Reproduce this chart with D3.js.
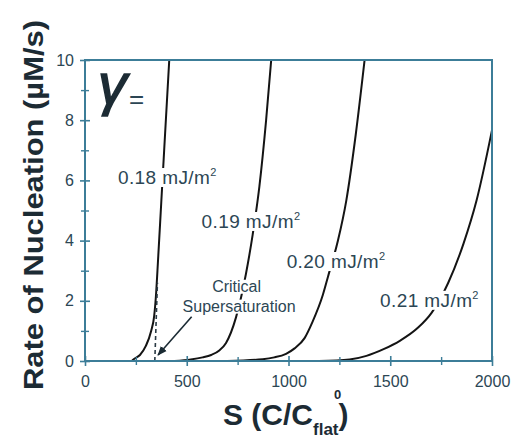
<!DOCTYPE html>
<html>
<head>
<meta charset="utf-8">
<script src="https://cdn.jsdelivr.net/npm/d3@7"></script>
<style>
  body { margin: 0; background: #fff; }
  svg { display: block; }
  text { font-family: "Liberation Sans", Arial, sans-serif; }
</style>
</head>
<body>
<svg id="chart" width="512" height="441"></svg>
<script>
"use strict";
// values: [S, rate (uM/s)]
var gamma018 = [[230, 0], [241, 0.07], [270, 0.2], [299, 0.5], [325, 1.0], [340, 1.5], [350, 2.3], [356, 3.0], [375, 5.3], [389, 7], [414, 10]];
var gamma019 = [[440, 0], [520, 0.05], [578, 0.12], [620, 0.2], [660, 0.35], [693, 0.6], [742, 1.45], [791, 2.9], [824, 4.2], [857, 5.8], [890, 8.0], [915, 10]];
var gamma020 = [[700, 0], [873, 0.06], [930, 0.12], [988, 0.24], [1030, 0.42], [1079, 0.76], [1118, 1.3], [1169, 2.2], [1194, 2.8], [1243, 4.0], [1284, 5.33], [1330, 7.5], [1374, 10]];
var gamma021 = [[1150, 0], [1300, 0.05], [1383, 0.17], [1470, 0.4], [1547, 0.67], [1637, 1.11], [1703, 1.6], [1785, 2.6], [1860, 3.9], [1924, 5.33], [2000, 7.67]];
var seriesNames = ['0.18', '0.19', '0.20', '0.21'];
// label anchors [S, rate] (left edge, baseline)
var labelAnchors = [[162, 5.88], [573, 4.42], [991, 3.09], [1450, 1.80]];
var xTicks = [0, 500, 1000, 1500, 2000];
var yTicks = [0, 2, 4, 6, 8, 10];
var critDash = [[343, 0], [356, 2.6]];
var critArrow = [[524, 1.47], [359, 0.2]];
var critText = [['Critical', 745, 2.30], ['Supersaturation', 757, 1.64]];

var series = [gamma018, gamma019, gamma020, gamma021];
var axisColor = '#3c7d98';
var textColor = '#2c4654';

var svg = d3.select('#chart');
var x = d3.scaleLinear().domain([0, 2000]).range([85, 492]);
var y = d3.scaleLinear().domain([0, 10]).range([361, 60]);

svg.append('defs').append('clipPath').attr('id', 'plot')
    .append('rect').attr('x', 85).attr('y', 60).attr('width', 407).attr('height', 301);
var marker = svg.select('defs').append('marker')
    .attr('id', 'arrow').attr('viewBox', '0 0 10 10')
    .attr('refX', 9).attr('refY', 5)
    .attr('markerWidth', 6).attr('markerHeight', 6)
    .attr('orient', 'auto');
marker.append('path').attr('d', 'M0,1 L10,5 L0,9 Z').attr('fill', '#1a2a33');

var line = d3.line()
    .x(function (d) { return x(d[0]); })
    .y(function (d) { return y(d[1]); })
    .curve(d3.curveMonotoneX);

var plot = svg.append('g').attr('clip-path', 'url(#plot)');
plot.selectAll('path.curve').data(series).enter().append('path')
    .attr('class', 'curve')
    .attr('d', line)
    .attr('fill', 'none')
    .attr('stroke', '#141414')
    .attr('stroke-width', 2);

plot.append('path')
    .attr('d', d3.line().x(function (d) { return x(d[0]); }).y(function (d) { return y(d[1]); })(critDash))
    .attr('stroke', '#2a3a44').attr('stroke-width', 1.6)
    .attr('stroke-dasharray', '4,3').attr('fill', 'none');

svg.append('line')
    .attr('x1', x(critArrow[0][0])).attr('y1', y(critArrow[0][1]))
    .attr('x2', x(critArrow[1][0])).attr('y2', y(critArrow[1][1]))
    .attr('stroke', '#1a2a33').attr('stroke-width', 1.6)
    .attr('marker-end', 'url(#arrow)');

// curve labels with white boxes that break the lines
var labels = svg.selectAll('g.label').data(seriesNames).enter().append('g').attr('class', 'label');
labels.each(function (name, i) {
    var g = d3.select(this);
    var t = g.append('text')
        .attr('x', x(labelAnchors[i][0]))
        .attr('y', y(labelAnchors[i][1]))
        .attr('fill', textColor)
        .attr('font-size', 19)
        .attr('letter-spacing', 0.4);
    t.append('tspan').text(name + ' mJ/m');
    t.append('tspan').text('2').attr('font-size', 11).attr('dy', -8);
    var bb = t.node().getBBox();
    g.insert('rect', 'text')
        .attr('x', bb.x - 1).attr('y', bb.y + 2)
        .attr('width', bb.width + 2).attr('height', bb.height - 3)
        .attr('fill', '#fff');
});

var crit = svg.selectAll('g.crit').data(critText).enter().append('g').attr('class', 'crit');
crit.each(function (d) {
    var g = d3.select(this);
    var t = g.append('text')
        .attr('x', x(d[1])).attr('y', y(d[2]))
        .attr('text-anchor', 'middle')
        .attr('fill', textColor)
        .attr('font-size', 16)
        .text(d[0]);
    var bb = t.node().getBBox();
    g.insert('rect', 'text')
        .attr('x', bb.x - 1).attr('y', bb.y + 2)
        .attr('width', bb.width + 2).attr('height', bb.height - 3)
        .attr('fill', '#fff');
});

// frame
svg.append('rect')
    .attr('x', 85).attr('y', 60).attr('width', 407).attr('height', 301)
    .attr('fill', 'none').attr('stroke', axisColor).attr('stroke-width', 2);

// axes
var xAxis = d3.axisBottom(x).tickValues(xTicks).tickFormat(d3.format('d'))
    .tickSizeInner(5).tickSizeOuter(0).tickPadding(10);
var gx = svg.append('g').attr('transform', 'translate(0,361)').call(xAxis);
gx.select('.domain').remove();
gx.selectAll('.tick line').attr('y1', -5).attr('stroke', axisColor).attr('stroke-width', 1.6);
gx.selectAll('.tick text').attr('font-size', 16).attr('fill', textColor)
    .attr('font-family', '"Liberation Sans", Arial, sans-serif');
var gxm = svg.append('g').attr('transform', 'translate(0,361)')
    .call(d3.axisBottom(x).tickValues([250, 750, 1250, 1750]).tickSize(4).tickFormat(''));
gxm.select('.domain').remove();
gxm.selectAll('.tick line').attr('y1', -4).attr('stroke', axisColor).attr('stroke-width', 1.4);

var yAxis = d3.axisLeft(y).tickValues(yTicks).tickSizeInner(5).tickSizeOuter(0).tickPadding(6);
var gy = svg.append('g').attr('transform', 'translate(85,0)').call(yAxis);
gy.select('.domain').remove();
gy.selectAll('.tick line').attr('x1', 5).attr('stroke', axisColor).attr('stroke-width', 1.6);
gy.selectAll('.tick text').attr('font-size', 16).attr('fill', textColor)
    .attr('font-family', '"Liberation Sans", Arial, sans-serif');
var gym = svg.append('g').attr('transform', 'translate(85,0)')
    .call(d3.axisLeft(y).tickValues([1, 3, 5, 7, 9]).tickSize(4).tickFormat(''));
gym.select('.domain').remove();
gym.selectAll('.tick line').attr('x1', 4).attr('stroke', axisColor).attr('stroke-width', 1.4);

// axis titles
svg.append('text')
    .attr('transform', 'translate(43,205) rotate(-90)')
    .attr('text-anchor', 'middle')
    .attr('font-size', 27).attr('font-weight', 'bold')
    .attr('fill', '#1c2b34')
    .attr('textLength', 370).attr('lengthAdjust', 'spacingAndGlyphs')
    .text('Rate of Nucleation (\u00b5M/s)');

var xt = svg.append('text')
    .attr('x', 223).attr('y', 425)
    .attr('font-size', 30).attr('font-weight', 'bold')
    .attr('fill', '#1c2b34');
xt.append('tspan').text('S (C/C');
xt.append('tspan').text('flat').attr('font-size', 17).attr('dy', 10);
xt.append('tspan').text(')').attr('dy', -10);
svg.append('text')
    .attr('x', 334).attr('y', 399)
    .attr('font-size', 13).attr('font-weight', 'bold')
    .attr('fill', '#1c2b34')
    .text('0');

// gamma
svg.append('text')
    .attr('x', 98).attr('y', 104)
    .attr('font-family', '"Liberation Serif", "Times New Roman", serif')
    .attr('font-style', 'italic')
    .attr('font-size', 58)
    .attr('fill', '#1c2b34')
    .attr('stroke', '#1c2b34').attr('stroke-width', 1.5)
    .text('\u03b3');
svg.append('text')
    .attr('x', 129).attr('y', 108)
    .attr('font-size', 26)
    .attr('fill', textColor)
    .text('=');
</script>
</body>
</html>
